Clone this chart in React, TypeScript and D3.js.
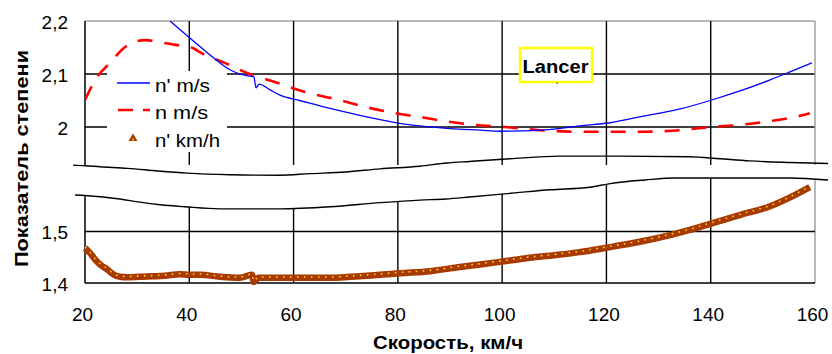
import React from "react";
import * as d3 from "d3";

// ---- data ----
const speedTicks = [20, 40, 60, 80, 100, 120, 140, 160];
const topTickValues = [2.2, 2.1, 2.0];
const topTickLabels = ["2,2", "2,1", "2"];
const botTickValues = [1.5, 1.4];
const botTickLabels = ["1,5", "1,4"];

// n' m/s (blue)
const blueSpeed = [36.3, 40.1, 44.0, 47.8, 49.7, 51.6, 52.4, 52.8, 53.4, 55.5, 57.4, 61.2, 67.0, 72.7, 76.6, 80.4, 84.2, 90.0, 95.8, 99.6, 107.3, 114.9, 120.7, 126.4, 134.1, 139.9, 145.6, 151.4, 155.2, 159.4];
const blueValue = [2.2, 2.168, 2.136, 2.108, 2.1, 2.096, 2.094, 2.074, 2.081, 2.07, 2.06, 2.05, 2.035, 2.022, 2.014, 2.007, 2.002, 1.997, 1.994, 1.992, 1.994, 2.002, 2.008, 2.019, 2.034, 2.05, 2.068, 2.089, 2.104, 2.121];

// n m/s (red dashed)
const redSpeed = [20.0, 22.3, 24.8, 27.7, 31.5, 34.4, 37.3, 40.1, 43.0, 46.8, 51.6, 56.4, 62.2, 67.9, 73.7, 79.5, 84.2, 89.0, 94.8, 100.5, 107.3, 114.9, 120.7, 126.4, 134.1, 139.9, 145.6, 151.4, 156.2, 159.0];
const redValue = [2.051, 2.094, 2.121, 2.151, 2.164, 2.16, 2.155, 2.151, 2.136, 2.121, 2.1, 2.085, 2.066, 2.053, 2.038, 2.026, 2.019, 2.011, 2.004, 2.0, 1.994, 1.991, 1.991, 1.991, 1.994, 2.0, 2.004, 2.011, 2.019, 2.026];

// n' km/h (brown triangles)
const triSpeed = [20, 21, 22, 23, 24.2, 25.4, 26.7, 28, 30.5, 33, 35.3, 38.2, 40, 42.1, 45.9, 49.7, 52, 52.4, 53.2, 55, 57.4, 62, 67, 70.8, 76.6, 80.4, 86.2, 91.9, 99.6, 105.3, 110, 114.9, 119.7, 126.4, 132.2, 136, 139.9, 145.6, 151.4, 156.2, 159];
const triValue = [1.468, 1.458, 1.445, 1.435, 1.427, 1.417, 1.412, 1.411, 1.412, 1.413, 1.414, 1.417, 1.416, 1.416, 1.412, 1.41, 1.416, 1.402, 1.41, 1.41, 1.41, 1.41, 1.41, 1.412, 1.416, 1.419, 1.423, 1.431, 1.441, 1.449, 1.454, 1.46, 1.468, 1.48, 1.493, 1.503, 1.515, 1.532, 1.549, 1.571, 1.586];

// axis break lines
const breakTopSpeed = [17.7, 20, 22.9, 28.2, 34.0, 39.6, 47.8, 57.4, 63.2, 69.9, 76.6, 84.2, 89.4, 93.8, 101.5, 111.1, 122.6, 136.0, 141.8, 147.5, 155.2, 162.5];
const breakTopValue = [1.928, 1.927, 1.925, 1.922, 1.917, 1.913, 1.91, 1.909, 1.912, 1.915, 1.921, 1.926, 1.932, 1.935, 1.94, 1.945, 1.945, 1.944, 1.94, 1.936, 1.933, 1.931];
const breakBotSpeed = [18.1, 20, 23.5, 26.7, 30.5, 34.4, 39.2, 45.9, 57.4, 67.0, 76.6, 84.2, 89.2, 93.8, 102.5, 109.2, 116.8, 120.7, 127.4, 133.2, 141.8, 155.2, 162.5];
const breakBotValue = [1.571, 1.57, 1.567, 1.563, 1.557, 1.552, 1.548, 1.544, 1.544, 1.548, 1.556, 1.561, 1.563, 1.567, 1.575, 1.581, 1.586, 1.593, 1.6, 1.604, 1.604, 1.604, 1.6];

const legendLabels = ["n' m/s", "n m/s", "n' km/h"];
const tagLabel = "Lancer";
const xTitle = "Скорость, км/ч";
const yTitle = "Показатель степени";

export default function App() {
  const W = 832, H = 354;
  const x = d3.scaleLinear().domain([20, 160]).range([85, 815]);
  const yT = d3.scaleLinear().domain([2.0, 2.2]).range([127, 21]);
  const yB = d3.scaleLinear().domain([1.4, 1.5]).range([283, 231.5]);
  const topBottom = 165;

  const zip = (a: number[], b: number[]) => a.map((v, i) => [v, b[i]] as [number, number]);

  const lineT = d3.line<[number, number]>().x(d => x(d[0])).y(d => yT(d[1])).curve(d3.curveMonotoneX);
  const lineB = d3.line<[number, number]>().x(d => x(d[0])).y(d => yB(d[1])).curve(d3.curveMonotoneX);
  const maskArea = d3.area<[number, number]>().x(d => x(d[0])).y0(topBottom + 1).y1(d => yB(d[1])).curve(d3.curveMonotoneX);

  const font = "'Liberation Sans', Arial, sans-serif";
  const brown = "#a83a00";
  const yellow = "#ffd21a";
  const innerTicks = speedTicks.slice(1, -1);

  return (
    <svg width={W} height={H} style={{ position: "absolute", left: 0, top: 0, display: "block", background: "#fff" }}>
      <defs>
        <clipPath id="clipTop">
          <rect x={x(20)} y={yT(2.2)} width={x(160) - x(20)} height={topBottom - yT(2.2)} />
        </clipPath>
      </defs>
      <rect x={0} y={0} width={W} height={H} fill="#fff" />

      {/* bottom panel verticals */}
      {innerTicks.map(t => (
        <line key={"bv" + t} x1={x(t)} x2={x(t)} y1={175} y2={yB(1.4)} stroke="#000" strokeWidth={1.4} />
      ))}
      <line x1={x(160)} x2={x(160)} y1={172} y2={yB(1.4)} stroke="#a0a0a0" strokeWidth={1.5} />
      {/* white mask above the lower break line */}
      <path d={maskArea(zip(breakBotSpeed, breakBotValue)) || ""} fill="#fff" />

      {/* horizontal grid */}
      <line x1={x(20)} x2={x(160)} y1={yT(2.2)} y2={yT(2.2)} stroke="#a0a0a0" strokeWidth={1.5} />
      {[2.1, 2.0].map(v => (
        <line key={"ht" + v} x1={x(20)} x2={x(160)} y1={yT(v)} y2={yT(v)} stroke="#000" strokeWidth={1.4} />
      ))}
      <line x1={x(20)} x2={x(160)} y1={yB(1.5)} y2={yB(1.5)} stroke="#000" strokeWidth={1.4} />
      <line x1={x(20)} x2={x(160)} y1={yB(1.4)} y2={yB(1.4)} stroke="#000" strokeWidth={1.5} />

      {/* top panel verticals */}
      {innerTicks.map(t => (
        <line key={"tv" + t} x1={x(t)} x2={x(t)} y1={yT(2.2)} y2={topBottom} stroke="#000" strokeWidth={1.4} />
      ))}
      <line x1={x(160)} x2={x(160)} y1={yT(2.2)} y2={topBottom} stroke="#a0a0a0" strokeWidth={1.5} />

      {/* left axis */}
      <line x1={x(20)} x2={x(20)} y1={yT(2.2)} y2={topBottom} stroke="#000" strokeWidth={1.5} />
      <line x1={x(20)} x2={x(20)} y1={yB(breakBotValue[1])} y2={yB(1.4)} stroke="#000" strokeWidth={1.5} />

      {/* break lines */}
      <path d={lineT(zip(breakTopSpeed, breakTopValue)) || ""} fill="none" stroke="#000" strokeWidth={1.4} />
      <path d={lineB(zip(breakBotSpeed, breakBotValue)) || ""} fill="none" stroke="#000" strokeWidth={1.4} />

      {/* legend background */}
      <rect x={107} y={71} width={120} height={81} fill="#fff" />

      {/* series */}
      <g clipPath="url(#clipTop)">
        <path d={lineT(zip(redSpeed, redValue)) || ""} fill="none" stroke="#ff0000" strokeWidth={2.6} strokeDasharray="15 12" />
        <path d={lineT(zip(blueSpeed, blueValue)) || ""} fill="none" stroke="#0000ff" strokeWidth={1.3} />
      </g>
      <path d={lineB(zip(triSpeed, triValue)) || ""} fill="none" stroke={brown} strokeWidth={6.5} strokeLinejoin="round" />
      <path d={lineB(zip(triSpeed, triValue)) || ""} fill="none" stroke={yellow} strokeWidth={1.6} strokeDasharray="1.6 5.4" transform="translate(0,-0.8)" />

      {/* legend */}
      <line x1={117} x2={150} y1={83} y2={83} stroke="#0000ff" strokeWidth={1.4} />
      <line x1={118} x2={150} y1={110} y2={110} stroke="#ff0000" strokeWidth={2.6} strokeDasharray="15 10" />
      <path d={d3.symbol().type(d3.symbolTriangle).size(34)() || ""} transform="translate(133,138.5)" fill={brown} />
      <circle cx={133} cy={139.5} r={1} fill={yellow} />
      {legendLabels.map((l, i) => (
        <text key={l} x={155} y={[92, 119, 147][i]} fontFamily={font} fontSize={18} fill="#000"
          textLength={[55, 53, 65][i]} lengthAdjust="spacingAndGlyphs">{l}</text>
      ))}

      {/* Lancer tag */}
      <rect x={520} y={48} width={72} height={34} fill="#fff" stroke="#ffff00" strokeWidth={2.5} />
      <text x={522.5} y={73} fontFamily={font} fontSize={19} fontWeight="bold" fill="#000"
        textLength={66} lengthAdjust="spacingAndGlyphs">{tagLabel}</text>
      <rect x={556.5} y={82.5} width={1.2} height={1.2} fill="#000" />

      {/* y tick labels */}
      {topTickValues.map((v, i) => (
        <text key={"yt" + v} x={68} y={yT(v) + 7.5} textAnchor="end" fontFamily={font} fontSize={19} fill="#000">{topTickLabels[i]}</text>
      ))}
      {botTickValues.map((v, i) => (
        <text key={"yb" + v} x={68} y={yB(v) + 7.5} textAnchor="end" fontFamily={font} fontSize={19} fill="#000">{botTickLabels[i]}</text>
      ))}

      {/* x tick labels */}
      {speedTicks.map(t => (
        <text key={"xt" + t} x={x(t) - 2.5} y={321} textAnchor="middle" fontFamily={font} fontSize={19} fill="#000">{t}</text>
      ))}

      {/* titles */}
      <text x={373} y={349} fontFamily={font} fontSize={18} fontWeight="bold" fill="#000"
        textLength={150} lengthAdjust="spacingAndGlyphs">{xTitle}</text>
      <text transform="translate(27.5,267) rotate(-90)" x={0} y={0} fontFamily={font} fontSize={18} fontWeight="bold" fill="#000"
        textLength={217} lengthAdjust="spacingAndGlyphs">{yTitle}</text>
    </svg>
  );
}
